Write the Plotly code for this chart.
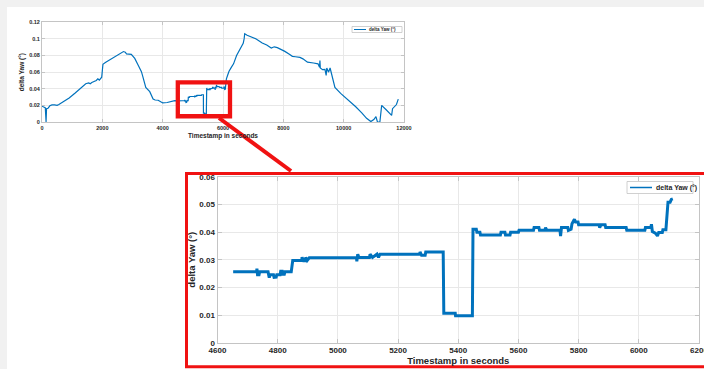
import plotly.graph_objects as go

# ---------------- data ----------------
t = [0, 60, 90, 110, 120, 135, 150, 200, 260, 330, 420, 500, 560, 700, 900, 1100, 1300, 1400,
     1450, 1550, 1600, 1650, 1800, 1850, 1900, 1980, 2020, 2100, 2300, 2500, 2700, 2760, 2800,
     2960, 3075, 3185, 3296, 3340, 3440, 3572, 3683, 3750, 3850, 3950, 4000, 4150, 4300, 4400,
     4500, 4600,
     4652, 4730, 4731, 4733, 4738, 4740, 4768, 4769, 4772, 4775, 4786, 4788, 4795, 4797, 4808,
     4810, 4815, 4817, 4822, 4824, 4845, 4850, 4880, 4881, 4886, 4892, 4893, 4898, 4905, 5062,
     5063, 5066, 5070, 5105, 5107, 5115, 5130, 5135, 5140, 5272, 5273, 5278, 5290, 5292, 5350,
     5352, 5390, 5391, 5447, 5449, 5460, 5462, 5472, 5474, 5540, 5542, 5555, 5557, 5572, 5574,
     5600, 5602, 5650, 5652, 5668, 5670, 5688, 5690, 5695, 5738, 5740, 5743, 5764, 5766, 5775,
     5778, 5786, 5790, 5798, 5800, 5868, 5870, 5874, 5888, 5890, 5958, 5960, 6020, 6022, 6040,
     6042, 6045, 6055, 6062, 6066, 6078, 6080, 6090, 6097, 6104, 6108, 6113,
     6150, 6200, 6280, 6350, 6450, 6550, 6670, 6700, 6720, 6800, 6950, 7100, 7300, 7450, 7600,
     7700, 7800, 7950, 8050, 8200, 8300, 8400, 8550, 8650, 8800, 9000, 9150, 9200, 9213, 9225,
     9300, 9380, 9420, 9440, 9500, 9550, 9600, 9650, 9710, 9900, 10200, 10400, 10600, 10760,
     10900, 11000, 11070, 11120, 11200, 11260, 11400, 11590, 11620, 11700, 11750, 11810]

yaw = [0.0190, 0.0185, 0.0175, 0.0170, 0.0000, 0.0000, 0.0160, 0.0165, 0.0195, 0.0205, 0.0205,
       0.0200, 0.0210, 0.0240, 0.0290, 0.0350, 0.0410, 0.0440, 0.0460, 0.0470, 0.0460, 0.0475,
       0.0500, 0.0520, 0.0505, 0.0540, 0.0695, 0.0715, 0.0760, 0.0805, 0.0848, 0.0840, 0.0820,
       0.0815, 0.0766, 0.0686, 0.0606, 0.0550, 0.0417, 0.0365, 0.0277, 0.0265, 0.0262, 0.0240,
       0.0230, 0.0235, 0.0250, 0.0258, 0.0255, 0.0260,
       0.0256, 0.0256, 0.0268, 0.0246, 0.0246, 0.0256, 0.0256, 0.0246, 0.0235, 0.0246, 0.0246,
       0.0236, 0.0237, 0.0246, 0.0246, 0.0258, 0.0258, 0.0247, 0.0247, 0.0256, 0.0256, 0.0297,
       0.0297, 0.0309, 0.0296, 0.0296, 0.0308, 0.0297, 0.0307, 0.0307, 0.0294, 0.0320, 0.0308,
       0.0308, 0.0320, 0.0308, 0.0320, 0.0308, 0.0320, 0.0320, 0.0328, 0.0316, 0.0316, 0.0328,
       0.0328, 0.0106, 0.0106, 0.0097, 0.0097, 0.0410, 0.0410, 0.0399, 0.0399, 0.0389, 0.0389,
       0.0399, 0.0399, 0.0389, 0.0389, 0.0399, 0.0399, 0.0406, 0.0406, 0.0416, 0.0416, 0.0406,
       0.0406, 0.0416, 0.0406, 0.0406, 0.0385, 0.0416, 0.0416, 0.0406, 0.0410, 0.0430, 0.0446,
       0.0436, 0.0436, 0.0426, 0.0426, 0.0416, 0.0426, 0.0426, 0.0416, 0.0416, 0.0406, 0.0406,
       0.0416, 0.0416, 0.0428, 0.0402, 0.0396, 0.0386, 0.0398, 0.0398, 0.0408, 0.0408, 0.0508,
       0.0508, 0.0518, 0.0520,
       0.0560, 0.0610, 0.0660, 0.0700, 0.0800, 0.0860, 0.0946, 0.1000, 0.1062, 0.1045, 0.1025,
       0.1000, 0.0950, 0.0926, 0.0890, 0.0905, 0.0895, 0.0870, 0.0850, 0.0815, 0.0790, 0.0785,
       0.0778, 0.0760, 0.0720, 0.0710, 0.0700, 0.0660, 0.0740, 0.0650, 0.0630, 0.0634, 0.0560,
       0.0650, 0.0600, 0.0650, 0.0580, 0.0480, 0.0417, 0.0345, 0.0250, 0.0183, 0.0110, 0.0044,
       0.0005, 0.0030, 0.0065, 0.0000, 0.0000, 0.0200, 0.0150, 0.0080, 0.0160, 0.0200, 0.0210,
       0.0275]

# zoomed-in subset shown in the inset
zoom_t0, zoom_t1 = 4650, 6115
t_zoom = [a for a in t if zoom_t0 <= a <= zoom_t1]
yaw_zoom = [b for a, b in zip(t, yaw) if zoom_t0 <= a <= zoom_t1]

top_xticks = [0, 2000, 4000, 6000, 8000, 10000, 12000]
top_xtext = ["0", "2000", "4000", "6000", "8000", "10000", "12000"]
top_yticks = [0, 0.02, 0.04, 0.06, 0.08, 0.1, 0.12]
top_ytext = ["0", "0.02", "0.04", "0.06", "0.08", "0.1", "0.12"]
zoom_xticks = [4600, 4800, 5000, 5200, 5400, 5600, 5800, 6000, 6200]
zoom_xtext = ["4600", "4800", "5000", "5200", "5400", "5600", "5800", "6000", "6200"]
zoom_yticks = [0, 0.01, 0.02, 0.03, 0.04, 0.05, 0.06]
zoom_ytext = ["0", "0.01", "0.02", "0.03", "0.04", "0.05", "0.06"]

series_name = "delta Yaw (°)"
x_title = "Timestamp in seconds"

# ---------------- styling ----------------
W, H = 704, 369
BLUE = "#0072BD"
RED = "#f01212"
BOX = "#c4c4c4"
GRID = "#e8e8e8"
TXT = "#262626"
FONT = "Liberation Sans"


def fx(p):
    return p / W


def fy(p):
    return 1 - p / H


fig = go.Figure()
fig.add_trace(go.Scatter(x=t, y=yaw, mode="lines", name=series_name,
                         line=dict(color=BLUE, width=1.2), xaxis="x", yaxis="y",
                         showlegend=False, hoverinfo="skip"))
fig.add_trace(go.Scatter(x=t_zoom, y=yaw_zoom, mode="lines", name=series_name,
                         line=dict(color=BLUE, width=3), xaxis="x2", yaxis="y2",
                         showlegend=False, hoverinfo="skip"))


def axis_common(size):
    return dict(showgrid=True, gridcolor=GRID, gridwidth=1, zeroline=False, automargin=False,
                showline=True, linecolor=BOX, linewidth=1, mirror="ticks",
                ticks="inside", tickcolor=BOX, tickmode="array", ticklabeloverflow="allow",
                tickfont=dict(family=FONT, size=size, color=TXT, weight="bold"),
                fixedrange=True)


fig.update_layout(
    template="none",
    width=W, height=H, margin=dict(l=0, r=0, t=0, b=0, pad=0), autosize=False,
    paper_bgcolor="#f1f1f1", plot_bgcolor="white",
    xaxis=dict(domain=[fx(42), fx(404)], range=[0, 12000], tickvals=top_xticks, ticktext=top_xtext,
               anchor="y", ticklen=3,
               title=dict(text=x_title, standoff=3,
                          font=dict(family=FONT, size=6.5, color=TXT, weight="bold")),
               **axis_common(5.5)),
    yaxis=dict(domain=[fy(122), fy(22.3)], range=[0, 0.12], tickvals=top_yticks, ticktext=top_ytext,
               anchor="x", ticklen=3,
               title=dict(text=series_name, standoff=3,
                          font=dict(family=FONT, size=6.5, color=TXT, weight="bold")),
               **axis_common(5.5)),
    xaxis2=dict(domain=[fx(217.5), fx(699)], range=[4600, 6200], tickvals=zoom_xticks, ticktext=zoom_xtext,
                anchor="y2", ticklen=4,
                title=dict(text=x_title, standoff=3,
                           font=dict(family=FONT, size=9.5, color=TXT, weight="bold")),
                **axis_common(8)),
    yaxis2=dict(domain=[fy(342.7), fy(176.7)], range=[0, 0.06], tickvals=zoom_yticks, ticktext=zoom_ytext,
                anchor="x2", ticklen=4,
                title=dict(text=series_name, standoff=1,
                           font=dict(family=FONT, size=9.5, color=TXT, weight="bold")),
                **axis_common(8)),
)

shapes = [
    # white panel behind the charts
    dict(type="rect", xref="paper", yref="paper", x0=fx(7), x1=1.02, y0=-0.02, y1=fy(7),
         fillcolor="white", line=dict(width=0), layer="below"),
    # highlight box on the overview chart
    dict(type="rect", xref="x", yref="y", x0=4502, x1=6232, y0=0.0069, y1=0.0478,
         line=dict(color=RED, width=4.3), layer="above"),
    # connector
    dict(type="line", xref="paper", yref="paper", x0=fx(219), y0=fy(118), x1=fx(291), y1=fy(171),
         line=dict(color=RED, width=4), layer="above"),
    # inset frame
    dict(type="rect", xref="paper", yref="paper", x0=fx(186.5), x1=fx(712), y0=fy(366.7), y1=fy(173.5),
         line=dict(color=RED, width=3), layer="above"),
    # legend boxes
    dict(type="rect", xref="paper", yref="paper", x0=fx(352), x1=fx(402), y0=fy(32.5), y1=fy(26.5),
         fillcolor="white", line=dict(color=BOX, width=0.8)),
    dict(type="line", xref="paper", yref="paper", x0=fx(354), x1=fx(366), y0=fy(29.5), y1=fy(29.5),
         line=dict(color=BLUE, width=1)),
    dict(type="rect", xref="paper", yref="paper", x0=fx(627), x1=fx(693), y0=fy(193.5), y1=fy(181.5),
         fillcolor="white", line=dict(color=BOX, width=0.8)),
    dict(type="line", xref="paper", yref="paper", x0=fx(630), x1=fx(652), y0=fy(187.5), y1=fy(187.5),
         line=dict(color=BLUE, width=1.5)),
]
fig.update_layout(shapes=shapes)

fig.add_annotation(xref="paper", yref="paper", x=fx(367), y=fy(29.6), text=series_name,
                   showarrow=False, xanchor="left", yanchor="middle",
                   font=dict(family=FONT, size=4.5, color=TXT, weight="bold"))
fig.add_annotation(xref="paper", yref="paper", x=fx(653.5), y=fy(187.5), text=series_name,
                   showarrow=False, xanchor="left", yanchor="middle",
                   font=dict(family=FONT, size=7, color=TXT, weight="bold"))

fig.write_html("out.html", config={"displayModeBar": False},
               post_script="document.body.style.margin='0';document.body.style.overflow='hidden';")
